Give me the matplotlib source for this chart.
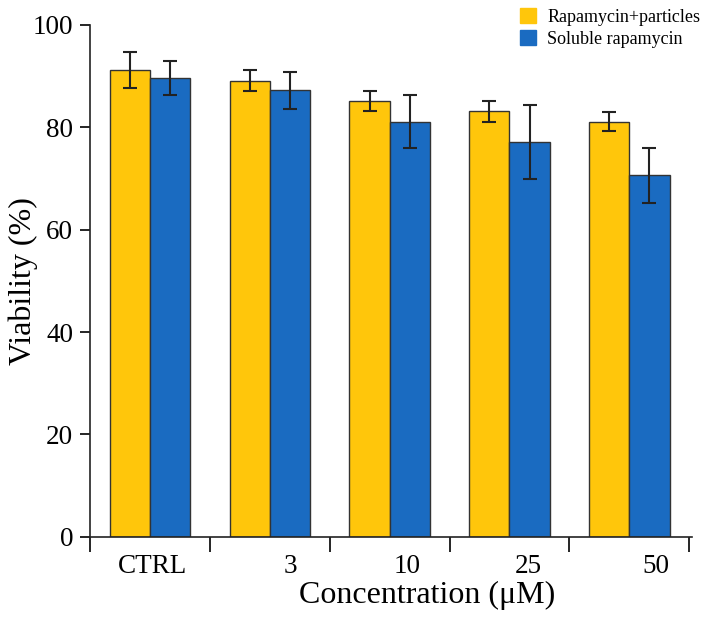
import numpy as np
import matplotlib.pyplot as plt
from matplotlib.patches import Patch

plt.rcParams['font.family'] = ['Liberation Serif', 'DejaVu Serif']

# data
concentrations = ['CTRL', '3', '10', '25', '50']
particles_mean = [91.1, 89.1, 85.1, 83.1, 81.1]
particles_err = [3.5, 2.1, 2.0, 2.0, 1.9]
soluble_mean = [89.6, 87.2, 81.1, 77.1, 70.6]
soluble_err = [3.3, 3.6, 5.1, 7.2, 5.3]

yellow = '#FFC60B'
blue = '#1A6BC1'

#===============================================================================
fig = plt.figure( figsize=(7.08, 6.2), dpi=100 )
ax = fig.add_axes( [0.127, 0.134, 0.85, 0.826] )

x = np.arange(len(concentrations)) + 0.5
w = 0.335
ekw = {'elinewidth': 1.5, 'capthick': 1.5, 'ecolor': '#222222'}
ax.bar( x - w/2, particles_mean, w, color=yellow, edgecolor='#333333', lw=1,
        yerr=particles_err, capsize=5, error_kw=ekw )
ax.bar( x + w/2, soluble_mean, w, color=blue, edgecolor='#333333', lw=1,
        yerr=soluble_err, capsize=5, error_kw=ekw )

ax.set_xlim( [0, 5.02] )
ax.set_ylim( [0, 100] )
ax.spines['top'].set_visible(False)
ax.spines['right'].set_visible(False)
for s in ['left', 'bottom']:
    ax.spines[s].set_linewidth(1.2)
    ax.spines[s].set_color('#222222')

ax.set_yticks( [0, 20, 40, 60, 80, 100] )
ax.tick_params( axis='y', labelsize=19.5, length=7, width=1.2, pad=5 )

# boundary ticks without labels, category labels as minor ticks
ax.set_xticks( np.arange(0, 6) )
ax.set_xticklabels( [] )
ax.tick_params( axis='x', which='major', length=11, width=1.2 )
label_shift = [0.02, 0.17, 0.15, 0.16, 0.22]
ax.set_xticks( x + np.array(label_shift), minor=True )
ax.set_xticklabels( concentrations, minor=True )
ax.tick_params( axis='x', which='minor', length=0, labelsize=19.5, pad=12 )

ax.set_ylabel( 'Viability (%)', fontsize=23 )
ax.yaxis.set_label_coords( -0.087, 0.5 )
ax.set_xlabel( 'Concentration (\u03bcM)', fontsize=23 )
ax.xaxis.set_label_coords( 0.56, -0.085 )

handles = [Patch(color=yellow), Patch(color=blue)]
fig.legend( handles, ['Rapamycin+particles', 'Soluble rapamycin'], loc='upper right',
            bbox_to_anchor=(1.012, 1.013), frameon=False, fontsize=13,
            handlelength=0.9, handleheight=0.9, handletextpad=0.6, labelspacing=0.25 )

fig.savefig( 'out.png', dpi=100 )
